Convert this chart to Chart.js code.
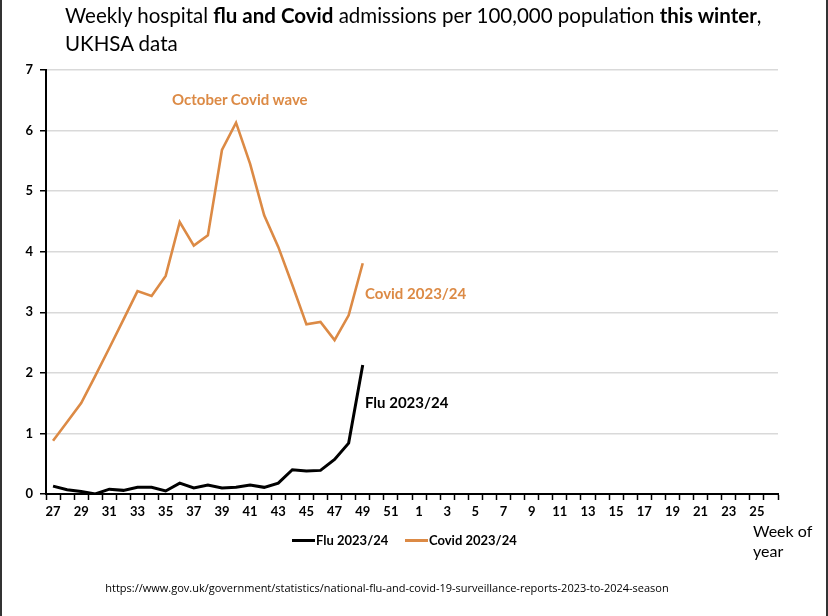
<!DOCTYPE html>
<html>
<head>
<meta charset="utf-8">
<script src="https://cdn.jsdelivr.net/npm/chart.js@4.4.1/dist/chart.umd.min.js"></script>
<style>
  html, body { margin:0; padding:0; background:#fff; }
  body { width:828px; height:616px; position:relative; overflow:hidden; font-family: Lato, "Open Sans", sans-serif; }
  #c { position:absolute; left:0; top:0; }
  .t { position:absolute; white-space:nowrap; color:#000; }
  .frameL { position:absolute; left:0; top:0; width:2px; height:616px; background:#333; }
  .frameR { position:absolute; right:0; top:0; width:2px; height:616px; background:#333; }
  .ann { font-weight:bold; font-size:15px; }
  .orange { color:#dc8a45; }
  .leg { position:absolute; top:532px; font-weight:bold; font-size:13px; white-space:nowrap; }
  .leg span.sw { display:inline-block; width:23px; height:3px; vertical-align:middle; margin-right:1px; position:relative; top:-1px; }
</style>
</head>
<body>
<canvas id="c" width="828" height="616"></canvas>
<div class="frameL"></div><div class="frameR"></div>
<div class="t" style="left:65px; top:1px; font-size:20.5px; line-height:28px;">Weekly hospital <b>flu and Covid</b> admissions per 100,000 population <b>this winter</b>,<br>UKHSA data</div>
<div class="t ann orange" style="left:172px; top:90px;">October Covid wave</div>
<div class="t ann orange" style="left:365px; top:284px;">Covid 2023/24</div>
<div class="t ann" style="left:365px; top:393px;">Flu 2023/24</div>
<div class="leg" style="left:292px;"><span class="sw" style="background:#000"></span>Flu 2023/24</div>
<div class="leg" style="left:405px;"><span class="sw" style="background:#dc8a45"></span>Covid 2023/24</div>
<div class="t" style="left:753px; top:521px; font-size:16px; line-height:20px;">Week of<br>year</div>
<div class="t" style="left:0; width:774px; text-align:center; top:580px; font-size:11px; font-family:'Open Sans', sans-serif;">https://www.gov.uk/government/statistics/national-flu-and-covid-19-surveillance-reports-2023-to-2024-season</div>
<script>
const weekLabels = ['27','28','29','30','31','32','33','34','35','36','37','38','39','40','41','42','43','44','45','46','47','48','49','50','51','52',
                    '1','2','3','4','5','6','7','8','9','10','11','12','13','14','15','16','17','18','19','20','21','22','23','24','25','26'];
const fluValues   = [0.13,0.07,0.04,0.00,0.08,0.06,0.11,0.11,0.05,0.18,0.10,0.15,0.10,0.11,0.15,0.11,0.18,0.40,0.38,0.39,0.57,0.84,2.13];
const covidValues = [0.88,1.19,1.50,1.95,2.41,2.88,3.35,3.27,3.60,4.49,4.10,4.27,5.68,6.13,5.45,4.60,4.08,3.45,2.80,2.84,2.54,2.95,3.81];
const yMin = 0, yMax = 7, yStep = 1;

const ORANGE = '#dc8a45';
const FONT = 'Lato, "Open Sans", sans-serif';

new Chart(document.getElementById('c'), {
  type: 'line',
  data: {
    labels: weekLabels,
    datasets: [
      { label: 'Covid 2023/24', data: covidValues, borderColor: ORANGE, borderWidth: 2.6, pointRadius: 0, tension: 0, fill: false },
      { label: 'Flu 2023/24', data: fluValues, borderColor: '#000', borderWidth: 3, pointRadius: 0, tension: 0, fill: false }
    ]
  },
  options: {
    responsive: false,
    animation: false,
    layout: { padding: { left: 0, top: 70, right: 50, bottom: 0 } },
    plugins: { legend: { display: false }, tooltip: { enabled: false }, title: { display: false } },
    scales: {
      x: {
        type: 'category',
        offset: true,
        afterFit: s => { s.height = 122; },
        grid: { display: true, drawOnChartArea: false, drawTicks: true, tickLength: 6, tickColor: '#000', tickWidth: 1.5, offset: true },
        border: { display: true, color: '#000', width: 2 },
        ticks: {
          autoSkip: false, maxRotation: 0, minRotation: 0, padding: 4,
          color: '#000', font: { family: FONT, size: 13, weight: 'bold' },
          callback: function(v, i) { return i % 2 === 0 ? this.getLabelForValue(v) : ''; }
        }
      },
      y: {
        min: yMin, max: yMax,
        afterFit: s => { s.width = 46; },
        grid: { color: '#d9d9d9', lineWidth: 1.5, drawTicks: true, tickLength: 6, tickColor: '#000', tickWidth: 1.5 },
        border: { display: true, color: '#000', width: 2 },
        ticks: { stepSize: yStep, padding: 7, color: '#000', font: { family: FONT, size: 13, weight: 'bold' } }
      }
    }
  }
});
</script>
</body>
</html>
